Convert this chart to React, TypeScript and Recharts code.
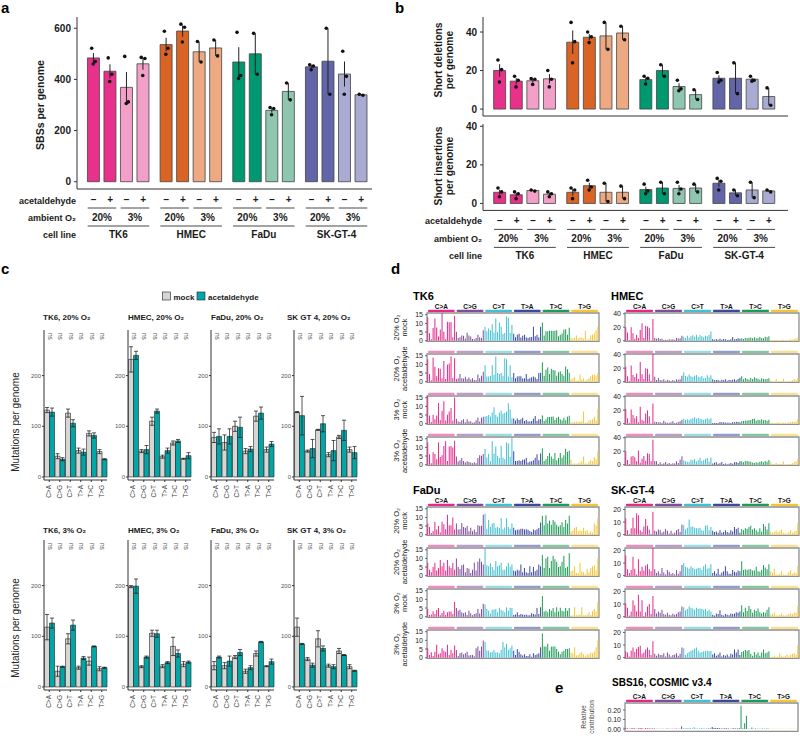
import React from 'react';
import {
  ComposedChart, BarChart, Bar, XAxis, YAxis, Scatter, ErrorBar, Cell, ReferenceArea, LabelList,
} from 'recharts';

const FONT = '"Liberation Sans", Arial, Helvetica, sans-serif';
const INK = '#1a1a1a';
const AXIS = '#333';

// ── a / b: per-sample burden
const CELL_LINES = ['TK6', 'HMEC', 'FaDu', 'SK-GT-4'];
const ACETALDEHYDE = ['−', '+', '−', '+'];
const O2_LEVELS = ['20%', '3%'];
const CELL_DARK = ['#e8318b', '#da6426', '#00986f', '#6266a8'];
const CELL_LIGHT = ['#f3a0c8', '#edaa82', '#8fc6af', '#a9abd2'];

const SBS_MEAN = [484, 432, 369, 461, 536, 589, 508, 523, 468, 500, 279, 353, 449, 471, 421, 340];
const SBS_SE = [19, 27, 60, 23, 27, 22, 40, 31, 58, 80, 9, 33, 6, 129, 49, 2];
const SBS_REPS = [
  [522, 470, 460], [484, 420, 392], [490, 312, 306], [486, 482, 415],
  [588, 522, 498], [616, 604, 546], [548, 468], [554, 492],
  [584, 415, 404], [580, 420], [290, 286, 262], [386, 320],
  [457, 452, 438], [600, 342], [510, 412, 342], [342, 338],
];

const DEL_MEAN = [20, 14.5, 14.7, 15.7, 34.7, 37.3, 38, 39.5, 15.3, 20, 11.7, 7.5, 16, 16, 15.5, 6.5];
const DEL_SE = [3.3, 1.6, 0.95, 2.45, 6.1, 1.6, 7, 3.5, 1.2, 3, 1.7, 2.5, 1.5, 8, 0.8, 4.5];
const DEL_REPS = [
  [25.5, 20.5, 14], [17, 15, 11.5], [15.8, 15.5, 12.8], [20, 15.5, 11.5],
  [45, 35, 24], [40, 37.5, 34.5], [45, 31], [43, 36],
  [17, 16, 13], [23, 17], [15, 10.5, 9.5], [10, 5],
  [19, 15, 14], [24, 8], [17, 15, 14.5], [11, 2],
];

const INS_MEAN = [5.8, 4.5, 6.7, 4.8, 5.8, 9.2, 5.8, 5.8, 7.2, 8, 7.8, 8, 10.5, 5.5, 7, 6.5];
const INS_SE = [1.3, 1.0, 0.3, 0.7, 1.7, 1.5, 4.8, 3.3, 1.5, 3, 1.7, 2, 1.8, 1.5, 4, 0.5];
const INS_REPS = [
  [8, 6, 3.5], [6, 5, 2.5], [7, 6.4], [6, 5, 3.5],
  [8, 7, 2.5], [12, 8.5, 7], [10.5, 1], [9, 2.5],
  [10, 6.5, 5], [11, 5], [11, 7.5, 5], [10, 6],
  [13, 11.5, 7], [7, 4], [11, 3], [7, 6],
];

// ── c: per-class counts (rows: TK6, HMEC, FaDu, SK-GT-4)
const MUT_TYPES = ['C>A', 'C>G', 'C>T', 'T>A', 'T>C', 'T>G'];
const FACET_NAMES = ['TK6', 'HMEC', 'FaDu', 'SK GT 4'];
const C_MOCK_20 = [[132, 41, 126, 52, 86, 50], [232, 51, 110, 40, 67, 36], [78, 68, 100, 51, 120, 54], [128, 51, 93, 44, 79, 54]];
const C_ACET_20 = [[128, 35, 106, 49, 82, 35], [240, 54, 130, 52, 71, 42], [80, 80, 98, 55, 126, 65], [121, 56, 105, 52, 92, 48]];
const C_MOCK_20_SE = [[5, 5, 8, 5, 5, 4], [25, 3, 8, 3, 4, 1], [10, 15, 10, 5, 10, 5], [1, 2, 1, 4, 3, 5]];
const C_ACET_20_SE = [[8, 3, 7, 6, 5, 1], [8, 8, 4, 5, 3, 6], [15, 15, 20, 5, 12, 5], [38, 18, 16, 20, 20, 12]];
const C_MOCK_3 = [[118, 31, 95, 38, 51, 36], [198, 40, 106, 41, 80, 45], [42, 42, 59, 31, 66, 41], [118, 55, 95, 42, 71, 40]];
const C_ACET_3 = [[126, 40, 122, 57, 80, 38], [199, 59, 105, 48, 66, 49], [59, 51, 68, 38, 89, 50], [85, 43, 76, 40, 63, 32]];
const C_MOCK_3_SE = [[25, 10, 10, 3, 8, 4], [2, 2, 6, 3, 18, 5], [8, 6, 3, 4, 5, 1], [18, 3, 16, 3, 5, 4]];
const C_ACET_3_SE = [[10, 1, 10, 3, 1, 1], [14, 2, 7, 2, 7, 2], [2, 10, 6, 4, 1, 5], [1, 4, 5, 4, 1, 1]];

// ── d / e: 96-channel profiles (16 trinucleotide contexts per class)
const BASES = ['A', 'C', 'G', 'T'];
const CHANNELS = MUT_TYPES.flatMap((t) => BASES.flatMap((l) => BASES.map((r) => `${l}[${t}]${r}`)));
const TYPE_COLORS = ['#e4298a', '#7d4e9c', '#43c0d0', '#3a4a9f', '#1f9b57', '#f5c633'];

const TK6_MOCK_20 = [
  13.5, 4.3, 0.8, 7.4, 12.8, 7.6, 2.4, 6.4, 16.8, 5.2, 1.0, 11.0, 10.6, 10.8, 2.0, 14.4,
  5.2, 1.5, 2.0, 3.0, 2.8, 1.2, 4.6, 3.0, 2.4, 1.0, 0.8, 1.6, 3.4, 2.0, 1.6, 6.0,
  8.0, 5.5, 7.0, 6.0, 9.5, 4.8, 12.8, 5.0, 10.5, 8.0, 4.0, 4.5, 14.0, 13.2, 4.6, 9.0,
  4.0, 2.0, 3.5, 4.0, 1.8, 2.8, 3.5, 2.0, 1.5, 2.0, 2.2, 8.0, 2.5, 3.5, 2.0, 8.0,
  10.5, 3.0, 5.5, 5.5, 5.8, 5.8, 5.6, 5.8, 6.0, 2.5, 3.5, 4.2, 6.5, 6.6, 3.4, 7.5,
  1.8, 1.2, 1.8, 3.0, 1.2, 1.8, 1.8, 1.2, 5.8, 0.6, 1.0, 3.2, 3.4, 4.2, 6.0, 8.0,
];
const TK6_ACET_20 = [
  13.0, 4.5, 0.8, 14.0, 8.6, 3.2, 7.8, 7.5, 2.0, 12.0, 1.5, 10.0, 10.5, 14.5, 2.2, 13.5,
  1.5, 2.0, 4.5, 2.0, 1.8, 2.8, 1.5, 2.4, 1.2, 2.0, 1.0, 0.8, 4.2, 2.0, 3.4, 5.8,
  9.5, 3.0, 3.0, 3.5, 9.5, 4.0, 14.5, 5.0, 4.5, 5.0, 3.5, 13.5, 13.0, 3.0, 9.5, 2.5,
  5.0, 2.0, 3.0, 3.2, 3.2, 1.8, 2.0, 4.5, 1.5, 2.0, 2.5, 3.0, 2.5, 1.5, 5.0, 5.2,
  11.2, 3.5, 7.0, 8.2, 4.5, 7.5, 6.8, 6.5, 3.5, 5.5, 6.0, 4.5, 3.5, 8.8, 7.2, 5.2,
  1.2, 2.0, 2.5, 0.6, 0.8, 4.2, 1.2, 1.8, 0.6, 1.2, 2.0, 3.2, 4.0, 4.2, 3.6, 5.0,
];
const TK6_MOCK_3 = [
  16.0, 4.8, 1.0, 5.2, 2.5, 4.8, 12.0, 2.2, 7.5, 13.0, 1.8, 5.2, 7.0, 9.0, 1.8, 15.2,
  2.8, 1.2, 1.0, 2.0, 2.5, 0.8, 2.6, 1.2, 1.4, 0.6, 0.8, 2.0, 3.6, 1.2, 3.4, 4.0,
  4.2, 4.5, 5.0, 4.2, 6.5, 9.5, 5.2, 4.0, 6.5, 7.5, 5.8, 6.2, 7.0, 11.8, 8.2, 3.2,
  3.0, 1.8, 3.0, 2.2, 2.5, 3.5, 1.5, 2.2, 1.2, 1.2, 1.5, 2.8, 4.5, 1.5, 2.5, 2.5,
  4.8, 1.5, 2.5, 3.8, 3.8, 4.0, 4.2, 2.2, 3.5, 4.0, 2.5, 1.8, 3.5, 2.0, 4.0, 4.6,
  0.8, 0.8, 1.2, 1.2, 1.0, 1.2, 1.2, 7.0, 0.6, 0.8, 1.8, 2.2, 2.5, 4.0, 1.8, 8.5,
];
const TK6_ACET_3 = [
  13.0, 6.0, 0.8, 7.2, 6.2, 3.2, 12.8, 4.5, 5.5, 10.8, 13.5, 2.2, 10.5, 10.8, 10.0, 13.8,
  4.8, 1.8, 2.5, 3.8, 2.2, 1.2, 2.0, 1.6, 1.2, 0.8, 1.4, 0.8, 3.8, 5.4, 5.2, 6.2,
  9.0, 4.2, 6.2, 2.0, 13.5, 6.5, 10.5, 5.2, 3.8, 11.0, 4.2, 3.2, 12.8, 12.2, 4.5, 15.5,
  7.8, 2.2, 2.2, 2.5, 2.2, 2.8, 3.0, 3.8, 1.2, 1.8, 2.0, 2.5, 4.0, 6.0, 2.5, 6.5,
  9.5, 2.2, 3.2, 5.0, 6.8, 4.8, 3.5, 6.8, 2.5, 3.8, 6.8, 4.0, 5.5, 9.2, 7.5, 8.0,
  3.0, 0.6, 0.8, 0.5, 0.8, 1.2, 1.8, 4.8, 0.8, 0.6, 1.8, 2.5, 2.0, 4.5, 3.2, 7.8,
];
const HMEC_MOCK_20 = [
  20, 12, 1, 20, 11, 3, 9, 4, 16, 26, 4, 22, 21, 19, 0.5, 32,
  4.2, 3.0, 4.0, 2.5, 3.0, 1.0, 1.5, 1.2, 2.0, 1.8, 2.2, 1.5, 4.0, 3.2, 3.5, 7.5,
  6, 4, 7.5, 4.5, 6.5, 8, 6, 9, 5.5, 8.5, 6.5, 5, 7.5, 6.5, 8.5, 13.5,
  2.5, 1.5, 2.5, 1.5, 3, 1.5, 2.5, 2, 1.0, 1.5, 2, 5.5, 2, 2.5, 3.5, 2.8,
  3.5, 2.5, 4, 3.5, 4.5, 4.8, 3.5, 5, 3.5, 3.8, 5.5, 4, 3.5, 6, 5, 6.5,
  1.0, 0.8, 1.2, 1.0, 1.0, 1.2, 1.0, 1.5, 0.8, 0.8, 1.0, 2.0, 1.5, 3.0, 3.2, 4.5,
];
const HMEC_ACET_20 = [
  22, 8, 1, 24, 10, 7, 12, 4, 29, 11, 4, 20, 19, 11, 1, 41,
  7.5, 2.5, 5.5, 2.5, 2, 3.5, 1.5, 3, 2, 1.2, 2.5, 1.5, 3.5, 2.8, 3.5, 9,
  14, 8.5, 7.5, 10.5, 8, 7, 9, 10, 7.5, 6.5, 8.5, 5, 5.5, 9.5, 6.5, 9.5,
  3.5, 2.0, 2.5, 2.5, 1.5, 3, 2, 3.5, 1.5, 2.5, 2, 3, 3.5, 2, 4, 6,
  8, 3.5, 5.5, 4, 3, 5.5, 4, 6.5, 5, 4.5, 3, 5, 4, 3.5, 4, 5,
  1.5, 0.5, 0.5, 4, 0.5, 0.8, 0.5, 4.5, 0.5, 0.5, 0.8, 1, 2, 4.2, 2.8, 6.0,
];
const HMEC_MOCK_3 = [
  22, 8, 1, 21, 13, 8, 11, 2, 25, 6, 4, 15, 20, 11, 0.5, 30,
  3, 2.5, 2, 2, 1.5, 4.5, 2, 1.5, 1.5, 2, 3.5, 1, 1.5, 2.5, 3.5, 6,
  7.5, 5.5, 6.5, 5.5, 7.5, 8, 9.5, 7.5, 8.5, 7.5, 6.5, 5.5, 7, 8, 6.5, 8,
  1.2, 1.0, 1.0, 1.2, 2.5, 2.0, 2.2, 1.8, 1.5, 1.5, 1.2, 2.5, 2.0, 3.0, 2.5, 2.0,
  3.5, 4.0, 4.5, 4.8, 5.0, 5.5, 7.0, 7.2, 4.5, 6.0, 5.0, 6.5, 5.0, 5.5, 4.5, 6.0,
  1.0, 1.2, 0.8, 1.0, 2.5, 1.0, 1.2, 1.8, 1.5, 0.8, 2.0, 2.2, 3.0, 2.5, 3.5, 7.0,
];
const HMEC_ACET_3 = [
  20, 7, 1, 12, 13, 11, 5, 21, 3, 9, 13, 6, 17, 16, 5, 37,
  5.5, 5.2, 1.2, 3.8, 1.2, 2.0, 4.0, 1.5, 2.5, 1.0, 2.0, 1.8, 5.0, 2.5, 7.5, 12.5,
  6.5, 5.0, 4.5, 4.0, 7.5, 6.5, 8.5, 4.8, 6.5, 10, 5.5, 6.5, 8.5, 10, 4.5, 10.5,
  1.8, 3.0, 3.5, 1.5, 2.0, 4.0, 1.2, 1.8, 0.8, 1.5, 2.5, 1.5, 3.5, 4.0, 2.5, 5.0,
  5.0, 3.5, 5.0, 5.5, 4.8, 4.5, 3.0, 2.5, 3.5, 3.0, 4.5, 5.0, 3.5, 5.5, 4.5, 7.0,
  4.5, 1.2, 0.8, 3.0, 1.0, 1.0, 1.2, 4.8, 0.5, 0.8, 1.5, 1.0, 2.0, 4.0, 5.0, 8.5,
];
const FADU_MOCK_20 = [
  6.5, 4.5, 1.0, 2.2, 7.5, 3.0, 5.0, 1.2, 7.5, 6.0, 3.2, 11.5, 5.5, 5.5, 10.0, 3.0,
  6.5, 3.0, 3.2, 6.8, 4.5, 4.0, 5.0, 2.0, 4.0, 2.0, 3.0, 1.5, 5.5, 5.0, 5.2, 11.5,
  12.2, 3.5, 8.5, 4.5, 6.5, 6.8, 4.0, 4.5, 3.8, 9.5, 3.2, 4.2, 9.5, 4.5, 3.5, 6.5,
  4.0, 2.5, 3.0, 2.8, 3.5, 3.5, 3.0, 3.2, 2.8, 2.2, 1.5, 3.0, 2.5, 3.2, 3.8, 7.0,
  11.0, 5.5, 11.2, 6.5, 8.2, 5.8, 8.5, 7.5, 5.8, 4.8, 5.5, 7.2, 4.5, 8.5, 6.5, 11.0,
  2.0, 2.5, 4.0, 4.5, 2.0, 2.5, 2.2, 4.0, 2.2, 2.5, 1.0, 2.0, 1.2, 6.5, 5.5, 9.5,
];
const FADU_ACET_20 = [
  7.5, 3.5, 2.0, 5.0, 7.5, 3.0, 4.5, 9.0, 5.5, 7.5, 3.0, 9.0, 5.5, 4.5, 7.5, 3.5,
  10.0, 5.2, 3.8, 6.0, 6.5, 2.0, 4.5, 4.0, 1.5, 3.5, 7.5, 3.0, 8.0, 10.0, 8.0, 6.5,
  15.5, 6.0, 5.5, 7.0, 5.0, 3.5, 8.5, 5.5, 6.0, 7.5, 3.5, 3.5, 5.5, 7.5, 5.2, 6.5,
  3.0, 2.5, 3.5, 3.0, 6.5, 2.0, 4.5, 2.0, 1.5, 5.5, 2.0, 5.0, 2.5, 3.5, 6.5, 5.5,
  12.0, 4.5, 10.0, 11.0, 4.5, 8.5, 11.5, 9.5, 8.0, 5.0, 5.5, 8.0, 11.5, 4.5, 5.2, 13.0,
  2.5, 3.0, 5.5, 1.5, 1.5, 7.5, 2.5, 2.0, 0.8, 4.0, 2.0, 4.5, 5.5, 6.0, 3.0, 10.0,
];
const FADU_MOCK_3 = [
  4.5, 1.0, 1.2, 3.2, 1.5, 3.8, 5.0, 0.8, 2.2, 3.5, 1.0, 2.5, 3.0, 3.0, 1.5, 8.5,
  5.0, 3.5, 4.0, 2.5, 2.0, 2.5, 1.0, 3.5, 2.0, 0.8, 1.5, 2.0, 4.5, 1.8, 4.5, 7.5,
  7.0, 4.5, 3.5, 1.8, 4.0, 4.2, 4.5, 2.5, 5.2, 4.0, 3.5, 2.5, 5.5, 3.5, 5.2, 5.0,
  1.0, 1.2, 2.5, 1.0, 1.5, 1.2, 1.0, 1.2, 0.8, 0.8, 2.0, 1.5, 1.2, 5.0, 1.5, 5.5,
  12.0, 3.0, 3.5, 2.5, 4.5, 3.5, 5.0, 2.5, 5.5, 3.0, 5.2, 3.5, 3.0, 5.0, 3.5, 5.0,
  0.5, 0.8, 5.5, 0.8, 1.0, 1.2, 5.5, 0.8, 1.0, 1.2, 2.5, 1.0, 3.2, 4.5, 3.0, 8.5,
];
const FADU_ACET_3 = [
  5.5, 1.5, 3.2, 1.0, 3.5, 7.5, 2.0, 2.5, 5.5, 4.0, 3.5, 7.5, 1.5, 4.5, 2.5, 7.0,
  4.5, 1.0, 2.5, 3.0, 1.8, 2.5, 3.5, 1.2, 1.5, 1.5, 0.8, 5.5, 6.5, 4.0, 6.5, 10.0,
  9.0, 4.2, 4.0, 3.0, 3.5, 4.5, 3.0, 3.2, 2.5, 4.5, 9.0, 6.0, 8.0, 4.5, 5.5, 7.0,
  4.0, 1.5, 5.0, 3.5, 2.0, 1.2, 2.0, 1.0, 1.0, 2.0, 0.5, 2.5, 1.5, 2.0, 2.5, 6.0,
  14.0, 6.5, 6.5, 8.0, 4.0, 6.5, 6.5, 6.5, 5.0, 3.5, 2.0, 3.5, 4.0, 5.0, 5.0, 5.5,
  3.0, 2.5, 6.0, 1.2, 1.5, 2.5, 3.5, 2.0, 0.8, 2.0, 2.0, 3.0, 2.5, 3.5, 6.0, 10.0,
];
const SK_MOCK_20 = [
  13, 3.5, 0.5, 5, 13.5, 5, 17, 15.5, 3.5, 2, 6.5, 12.5, 7, 4, 0.5, 18,
  3.0, 2.5, 4.0, 3.5, 1.5, 2.5, 4.5, 3.0, 1.0, 3.0, 1.0, 1.5, 3.5, 4.5, 2.0, 8.0,
  7.5, 4.0, 5.5, 12.0, 6.0, 6.5, 5.5, 5.0, 5.0, 5.5, 3.5, 3.0, 7.0, 7.5, 3.5, 6.0,
  3.0, 2.0, 2.5, 1.5, 3.5, 1.5, 2.0, 3.5, 2.0, 1.5, 3.5, 2.5, 6.0, 4.5, 5.5, 1.5,
  4.5, 3.5, 5.0, 4.5, 6.0, 7.0, 4.0, 5.0, 3.5, 2.0, 5.0, 2.5, 8.5, 6.5, 4.0, 9.0,
  2.5, 1.5, 2.0, 3.5, 2.0, 3.0, 4.0, 1.5, 1.2, 1.0, 2.0, 3.5, 1.5, 2.5, 3.0, 9.0,
];
const SK_ACET_20 = [
  16, 5, 2, 4.5, 15, 5.5, 1, 13, 3.5, 7, 4, 8, 9, 5, 3.5, 23,
  5.0, 2.0, 3.5, 1.5, 6.0, 2.5, 1.0, 4.5, 3.0, 1.5, 2.0, 1.0, 4.5, 1.5, 3.5, 8.5,
  10.0, 7.0, 6.5, 5.5, 7.5, 6.0, 5.0, 5.5, 6.0, 6.0, 4.5, 7.5, 9.0, 5.5, 6.0, 9.0,
  2.0, 3.5, 1.5, 5.5, 1.0, 2.5, 3.5, 7.5, 3.5, 1.5, 1.5, 4.5, 3.0, 2.5, 4.0, 3.5,
  11.5, 4.5, 5.0, 4.5, 5.0, 5.0, 4.0, 4.0, 7.0, 3.5, 3.0, 4.5, 8.5, 6.5, 5.0, 9.0,
  3.5, 2.0, 5.5, 1.0, 0.8, 1.5, 3.5, 1.0, 0.8, 1.0, 3.0, 4.5, 1.5, 2.5, 2.0, 7.5,
];
const SK_MOCK_3 = [
  10.5, 7, 1, 4, 13, 9, 4, 17.5, 4, 13, 0.5, 3.5, 8, 10, 2, 16.5,
  6.0, 2.5, 4.0, 3.0, 5.5, 2.0, 1.5, 3.0, 1.5, 1.2, 2.5, 1.5, 2.0, 3.5, 4.0, 8.0,
  7.5, 5.0, 6.0, 8.0, 7.0, 6.5, 5.5, 7.0, 6.0, 6.5, 6.0, 5.5, 6.0, 4.5, 5.5, 4.0,
  1.5, 1.0, 2.5, 2.0, 5.0, 1.5, 1.0, 2.0, 1.5, 1.2, 2.5, 2.0, 2.5, 3.5, 3.0, 4.0,
  9.0, 3.5, 7.0, 4.5, 8.5, 6.0, 3.0, 5.5, 4.5, 6.5, 3.5, 2.5, 3.5, 3.0, 5.5, 7.5,
  1.5, 2.0, 3.5, 1.2, 1.0, 1.5, 2.5, 1.2, 1.0, 1.5, 2.0, 2.5, 2.0, 3.0, 3.0, 8.0,
];
const SK_ACET_3 = [
  5, 4, 1, 5.5, 8, 4.5, 7, 8.5, 9.5, 3, 4, 6.5, 8, 6, 2, 13,
  3.0, 1.5, 3.0, 2.0, 2.0, 3.5, 1.0, 4.0, 2.5, 1.0, 2.0, 2.5, 3.5, 1.5, 3.0, 8.0,
  7.5, 2.0, 3.5, 4.5, 5.5, 6.0, 7.0, 8.0, 5.5, 4.0, 4.5, 5.0, 5.0, 5.5, 5.0, 5.5,
  2.5, 3.5, 1.5, 2.5, 4.0, 1.0, 2.0, 1.5, 2.5, 1.0, 3.0, 2.5, 6.5, 4.0, 6.5, 2.0,
  4.5, 5.0, 6.0, 5.5, 6.0, 3.0, 1.5, 4.5, 2.5, 4.0, 1.5, 4.0, 6.5, 3.5, 4.0, 5.0,
  0.5, 0.8, 1.5, 0.5, 1.0, 3.5, 1.5, 0.8, 1.5, 2.5, 1.0, 2.0, 3.0, 3.5, 2.5, 10.0,
];
const SBS16 = [
  0.013, 0.008, 0.002, 0.009, 0.010, 0.008, 0.004, 0.009, 0.011, 0.010, 0.003, 0.011, 0.008, 0.007, 0.006, 0.008,
  0.005, 0.003, 0.003, 0.004, 0.004, 0.003, 0.002, 0.005, 0.003, 0.003, 0.002, 0.004, 0.006, 0.004, 0.004, 0.030,
  0.008, 0.005, 0.012, 0.007, 0.007, 0.006, 0.018, 0.006, 0.006, 0.005, 0.011, 0.006, 0.006, 0.006, 0.012, 0.009,
  0.022, 0.010, 0.012, 0.011, 0.008, 0.006, 0.005, 0.009, 0.007, 0.006, 0.004, 0.006, 0.007, 0.006, 0.006, 0.008,
  0.245, 0.008, 0.060, 0.140, 0.004, 0.003, 0.015, 0.004, 0.006, 0.003, 0.004, 0.003, 0.006, 0.003, 0.005, 0.005,
  0.003, 0.002, 0.003, 0.002, 0.002, 0.002, 0.003, 0.002, 0.002, 0.001, 0.002, 0.002, 0.003, 0.002, 0.002, 0.004,
];

// bar slots: four conditions per cell line, small gap between cell lines
const GROUP_STEP = 4.4;
const barX = (i: number) => Math.floor(i / 4) * GROUP_STEP + (i % 4);
const BAR_TICKS = SBS_MEAN.map((_, i) => barX(i));
const O2_TICKS = [0, 1, 2, 3, 4, 5, 6, 7].map((k) => Math.floor(k / 2) * GROUP_STEP + (k % 2) * 2 + 0.5);
const CELL_TICKS = CELL_LINES.map((_, g) => g * GROUP_STEP + 1.5);
const JITTER = [-0.12, 0.1, -0.03];
const BAR_W = 12;

const Dot = (p: any) => <circle cx={p.cx} cy={p.cy} r={1.8} fill="#111" />;

// axis ids sort in stacking order: x0 main line, x1 acetaldehyde, x2 O2, x3 cell line
function GenomeBars({ left, top, plotW, plotH, xDomain, yDomain, yTicks, means, ses, reps, annotate }: any) {
  const MT = 6, YW = 40, MR = 6;
  const ppu = plotW / (xDomain[1] - xDomain[0]);
  const rows = means.map((m: number, i: number) => ({ x: barX(i), mean: m, se: ses[i] }));
  const pts = reps.flatMap((r: number[], i: number) => r.map((y, j) => ({ x: barX(i) + JITTER[j], y })));
  const axisH = annotate ? 4 + 15 + 18 + 16 : 5;
  const txt = { textAnchor: 'middle', fontWeight: 700, fill: INK } as any;
  const flat = { type: 'number', dataKey: 'x', domain: xDomain, interval: 0, tickSize: 0, tickMargin: 0, axisLine: false, tickLine: false, allowDataOverflow: true } as any;

  return (
    <div style={{ position: 'absolute', left: left - YW, top: top - MT }}>
      <ComposedChart width={YW + plotW + MR} height={MT + plotH + axisH} data={rows}
        margin={{ top: MT, right: MR, bottom: 0, left: 0 }}>
        <XAxis xAxisId="x0" dataKey="x" type="number" domain={xDomain} ticks={BAR_TICKS} interval={0}
          tick={false} tickSize={3} height={annotate ? 4 : 5} allowDataOverflow
          axisLine={{ stroke: AXIS }} tickLine={{ stroke: AXIS }} />
        <XAxis xAxisId="x1" {...flat} ticks={BAR_TICKS} height={annotate ? 15 : 0} hide={!annotate}
          tick={(p: any) => <text x={p.x} y={p.y + 10} fontSize={10} {...txt}>{ACETALDEHYDE[p.index % 4]}</text>} />
        {annotate && [
          <XAxis key="o2" xAxisId="x2" {...flat} ticks={O2_TICKS} height={18}
            tick={(p: any) => {
              const half = 0.5 * ppu + BAR_W / 2;
              return (
                <g>
                  <line x1={p.x - half} x2={p.x + half} y1={p.y} y2={p.y} stroke={AXIS} strokeWidth={0.9} />
                  <text x={p.x} y={p.y + 12.5} fontSize={10} {...txt}>{O2_LEVELS[p.index % 2]}</text>
                </g>
              );
            }} />,
          <XAxis key="cell" xAxisId="x3" {...flat} ticks={CELL_TICKS} height={16}
            tick={(p: any) => {
              const half = 1.5 * ppu + BAR_W / 2;
              return (
                <g>
                  <line x1={p.x - half} x2={p.x + half} y1={p.y} y2={p.y} stroke={AXIS} strokeWidth={0.9} />
                  <text x={p.x} y={p.y + 11.5} fontSize={10} {...txt}>{CELL_LINES[p.index]}</text>
                </g>
              );
            }} />,
        ]}
        <YAxis width={YW} domain={yDomain} ticks={yTicks} allowDataOverflow tickSize={3} tickMargin={3}
          axisLine={{ stroke: AXIS }} tickLine={{ stroke: AXIS }}
          tick={{ fontSize: 10, fontWeight: 700, fill: INK }} />
        <Bar xAxisId="x0" dataKey="mean" barSize={BAR_W} stroke="#444" strokeWidth={0.8} isAnimationActive={false}>
          {rows.map((_: any, i: number) => {
            const g = Math.floor(i / 4);
            return <Cell key={i} fill={i % 4 < 2 ? CELL_DARK[g] : CELL_LIGHT[g]} />;
          })}
          <ErrorBar dataKey="se" width={0} stroke="#222" strokeWidth={1} direction="y" />
        </Bar>
        {/* replicates sit on a twin axis so they do not shrink the bar band */}
        <Scatter xAxisId="x1" data={pts} dataKey="y" shape={Dot} isAnimationActive={false} />
      </ComposedChart>
    </div>
  );
}

function Facet({ left, top, mock, acet, mockSe, acetSe }: any) {
  const MT = 4, YW = 18, PW = 63, PH = 150, XH = 20;
  const data = MUT_TYPES.map((t, i) => ({ t, mock: mock[i], acet: acet[i], mockSe: mockSe[i], acetSe: acetSe[i] }));
  const ns = (p: any) => {
    const x = p.viewBox ? p.viewBox.x : p.x;
    return (
      <text transform={`translate(${x - 2},${MT + 3}) rotate(90)`} fontSize={6.5} fill="#555">ns</text>
    );
  };
  return (
    <div style={{ position: 'absolute', left: left - YW, top: top - MT }}>
      <BarChart width={YW + PW + 2} height={MT + PH + XH} data={data}
        margin={{ top: MT, right: 2, bottom: 0, left: 0 }} barCategoryGap="5%" barGap={0}>
        <XAxis dataKey="t" height={XH} interval={0} tickSize={2} axisLine={{ stroke: AXIS }} tickLine={{ stroke: AXIS }}
          tick={(p: any) => (
            <text transform={`translate(${p.x + 2},${p.y + 1}) rotate(-90)`} textAnchor="end" fontSize={6.5} fill="#444">
              {p.payload.value}
            </text>
          )} />
        <YAxis width={YW} domain={[-6, 290]} ticks={[0, 100, 200]} interval={0} allowDataOverflow tickSize={2} tickMargin={1}
          axisLine={{ stroke: AXIS }} tickLine={{ stroke: AXIS }} tick={{ fontSize: 6, fill: '#555' }} />
        <Bar dataKey="mock" fill="#d6d6d6" stroke="#222" strokeWidth={0.6} isAnimationActive={false}>
          <ErrorBar dataKey="mockSe" width={2} stroke="#111" strokeWidth={0.7} direction="y" />
        </Bar>
        <Bar dataKey="acet" fill="#03a6a6" stroke="#222" strokeWidth={0.6} isAnimationActive={false}>
          <ErrorBar dataKey="acetSe" width={2} stroke="#111" strokeWidth={0.7} direction="y" />
          <LabelList dataKey="acet" content={ns} />
        </Bar>
      </BarChart>
    </div>
  );
}

function Spectrum({ values, left, top, width, yMin, yMax, ticks, fmt, header, yw = 16 }: any) {
  const PH = 28.4, MT = 12, YW = yw;
  const u = (yMax - yMin) / PH;
  const data = values.map((v: number, i: number) => ({ ch: CHANNELS[i], v }));
  return (
    <div style={{ position: 'absolute', left: left - YW, top: top - MT }}>
      <BarChart width={YW + width + 2} height={MT + PH + 2} data={data}
        margin={{ top: MT, right: 2, bottom: 2, left: 0 }} barCategoryGap="12%">
        <XAxis dataKey="ch" hide />
        <YAxis width={YW} domain={[yMin, yMax]} ticks={ticks} interval={0} allowDataOverflow tickSize={2} tickMargin={2}
          axisLine={false} tickLine={{ stroke: '#666' }} tickFormatter={fmt}
          tick={{ fontSize: 7, fill: '#222' }} />
        <Bar dataKey="v" isAnimationActive={false}>
          {data.map((_: any, i: number) => <Cell key={i} fill={TYPE_COLORS[Math.floor(i / 16)]} />)}
        </Bar>
        {MUT_TYPES.map((t, k) => (
          <ReferenceArea key={t} x1={CHANNELS[k * 16]} x2={CHANNELS[k * 16 + 15]}
            y1={yMax + 1 * u} y2={yMax + 3.2 * u} ifOverflow="visible"
            fill={TYPE_COLORS[k]} fillOpacity={header ? 1 : 0.55} stroke="none"
            shape={(p: any) => <rect x={p.x + 0.9} y={p.y} width={p.width - 1.8} height={p.height} rx={1} fill={p.fill} fillOpacity={p.fillOpacity} />}
            label={header ? { value: t, position: 'top', offset: 1.2, fontSize: 6.5, fontWeight: 700, fill: '#111' } : undefined} />
        ))}
        <ReferenceArea y1={yMin} y2={yMax} ifOverflow="visible" fill="none" stroke="#8f8f8f" strokeWidth={1.3} />
      </BarChart>
    </div>
  );
}

const ROW_PITCH = 41.1;
const SPEC_BLOCKS = [
  { name: 'TK6', left: 427, width: 172, top: 313.3, titleY: 300, yMax: 16, yMin: -0.4, ticks: [0, 5, 10, 15], rows: [TK6_MOCK_20, TK6_ACET_20, TK6_MOCK_3, TK6_ACET_3] },
  { name: 'HMEC', left: 625, width: 174, top: 313.3, titleY: 300, yMax: 41, yMin: -1, ticks: [0, 20, 40], rows: [HMEC_MOCK_20, HMEC_ACET_20, HMEC_MOCK_3, HMEC_ACET_3] },
  { name: 'FaDu', left: 427, width: 172, top: 506.7, titleY: 493.5, yMax: 16, yMin: -0.4, ticks: [0, 5, 10, 15], rows: [FADU_MOCK_20, FADU_ACET_20, FADU_MOCK_3, FADU_ACET_3] },
  { name: 'SK-GT-4', left: 625, width: 174, top: 506.7, titleY: 493.5, yMax: 22, yMin: -0.6, ticks: [0, 10, 20], rows: [SK_MOCK_20, SK_ACET_20, SK_MOCK_3, SK_ACET_3] },
];
const ROW_LABELS = [['20% O₂', 'mock'], ['20% O₂', 'acetaldehyde'], ['3% O₂', 'mock'], ['3% O₂', 'acetaldehyde']];
const FACET_X = [44.3, 127.7, 211, 294.3];
const FACET_TITLE_X = [43, 128, 211, 287];
const ANNOT_TITLES = ['acetaldehyde', 'ambient O₂', 'cell line'];

const VText = ({ x, y, size, weight = 400, fill = INK, children }: any) => (
  <text transform={`translate(${x},${y}) rotate(-90)`} textAnchor="middle" fontSize={size} fontWeight={weight} fill={fill}>
    {children}
  </text>
);

export default function App() {
  return (
    <div style={{ position: 'absolute', left: 0, top: 0, width: 800, height: 738, background: '#fff', fontFamily: FONT, overflow: 'hidden' }}>
      {/* a */}
      <GenomeBars left={77} top={17} plotW={295} plotH={172} xDomain={[-1.01, 16.85]} yDomain={[-28.5, 644]}
        yTicks={[0, 200, 400, 600]} means={SBS_MEAN} ses={SBS_SE} reps={SBS_REPS} annotate />
      {/* b */}
      <GenomeBars left={483} top={17} plotW={305} plotH={99} xDomain={[-1.02, 17.34]} yDomain={[-3.6, 47.8]}
        yTicks={[0, 20, 40]} means={DEL_MEAN} ses={DEL_SE} reps={DEL_REPS} />
      <GenomeBars left={483} top={124.3} plotW={305} plotH={86.4} xDomain={[-1.02, 17.34]} yDomain={[-3.6, 41.2]}
        yTicks={[0, 20, 40]} means={INS_MEAN} ses={INS_SE} reps={INS_REPS} annotate />
      {/* c */}
      {FACET_X.map((x, i) => (
        <Facet key={`t${i}`} left={x} top={330} mock={C_MOCK_20[i]} acet={C_ACET_20[i]} mockSe={C_MOCK_20_SE[i]} acetSe={C_ACET_20_SE[i]} />
      ))}
      {FACET_X.map((x, i) => (
        <Facet key={`b${i}`} left={x} top={540} mock={C_MOCK_3[i]} acet={C_ACET_3[i]} mockSe={C_MOCK_3_SE[i]} acetSe={C_ACET_3_SE[i]} />
      ))}
      {/* d */}
      {SPEC_BLOCKS.flatMap((b) => b.rows.map((vals, r) => (
        <Spectrum key={`${b.name}${r}`} values={vals} left={b.left} top={b.top + r * ROW_PITCH} width={b.width}
          yMin={b.yMin} yMax={b.yMax} ticks={b.ticks} header={r === 0} />
      )))}
      {/* e */}
      <Spectrum values={SBS16} left={625} top={703.3} width={173} yMin={-0.025} yMax={0.274} yw={24}
        ticks={[0, 0.1, 0.2]} fmt={(v: number) => v.toFixed(2)} header />

      <svg width={800} height={738} style={{ position: 'absolute', left: 0, top: 0, pointerEvents: 'none' }}>
        <g fontSize={15} fontWeight={700} fill="#000">
          <text x={1} y={13}>a</text>
          <text x={395} y={13}>b</text>
          <text x={1} y={274}>c</text>
          <text x={391} y={274}>d</text>
          <text x={555} y={693}>e</text>
        </g>
        <VText x={44} y={105} size={10.5} weight={700}>SBSs per genome</VText>
        <VText x={441.5} y={60} size={10.3} weight={700}>Short deletions</VText>
        <VText x={453} y={60} size={10.3} weight={700}>per genome</VText>
        <VText x={441.5} y={166} size={10.3} weight={700}>Short insertions</VText>
        <VText x={453} y={166} size={10.3} weight={700}>per genome</VText>
        <g fontSize={9} fontWeight={700} fill={INK} textAnchor="end">
          {ANNOT_TITLES.map((t, i) => <text key={`a${t}`} x={76} y={203.5 + i * 17.4}>{t}</text>)}
          {ANNOT_TITLES.map((t, i) => <text key={`b${t}`} x={482} y={224 + i * 17.6}>{t}</text>)}
        </g>

        {/* c legend + titles */}
        <rect x={162.5} y={292} width={8} height={8} fill="#d6d6d6" stroke="#222" strokeWidth={0.6} />
        <text x={173.5} y={299.5} fontSize={8} fontWeight={700} fill={INK}>mock</text>
        <rect x={197} y={292} width={8} height={8} fill="#03a6a6" stroke="#222" strokeWidth={0.6} />
        <text x={208} y={299.5} fontSize={8} fontWeight={700} fill={INK}>acetaldehyde</text>
        {FACET_NAMES.map((n, i) => (
          <text key={`ct${i}`} x={FACET_TITLE_X[i]} y={320} fontSize={8} fontWeight={700} fill={INK}>{`${n}, 20% O₂`}</text>
        ))}
        {FACET_NAMES.map((n, i) => (
          <text key={`cb${i}`} x={FACET_TITLE_X[i]} y={532.5} fontSize={8} fontWeight={700} fill={INK}>{`${n}, 3% O₂`}</text>
        ))}
        <VText x={18.5} y={422} size={10} fill="#222">Mutations per genome</VText>
        <VText x={18.5} y={628} size={10} fill="#222">Mutations per genome</VText>

        {/* d titles + row labels */}
        {SPEC_BLOCKS.map((b) => (
          <text key={b.name} x={b.left - 14} y={b.titleY} fontSize={11} fontWeight={700} fill="#000">{b.name}</text>
        ))}
        {[313.3, 506.7].flatMap((t) => ROW_LABELS.map((l, r) => (
          <g key={`${t}${r}`}>
            <VText x={398.5} y={t + r * ROW_PITCH + 14.2} size={7.5} fill="#222">{l[0]}</VText>
            <VText x={407} y={t + r * ROW_PITCH + 14.2} size={7.5} fill="#222">{l[1]}</VText>
          </g>
        )))}

        {/* e */}
        <text x={612} y={686} fontSize={10} fontWeight={700} fill="#000">SBS16, COSMIC v3.4</text>
        <VText x={586} y={717} size={6.5} fill="#444">Relative</VText>
        <VText x={594} y={717} size={6.5} fill="#444">contribution</VText>
      </svg>
    </div>
  );
}
